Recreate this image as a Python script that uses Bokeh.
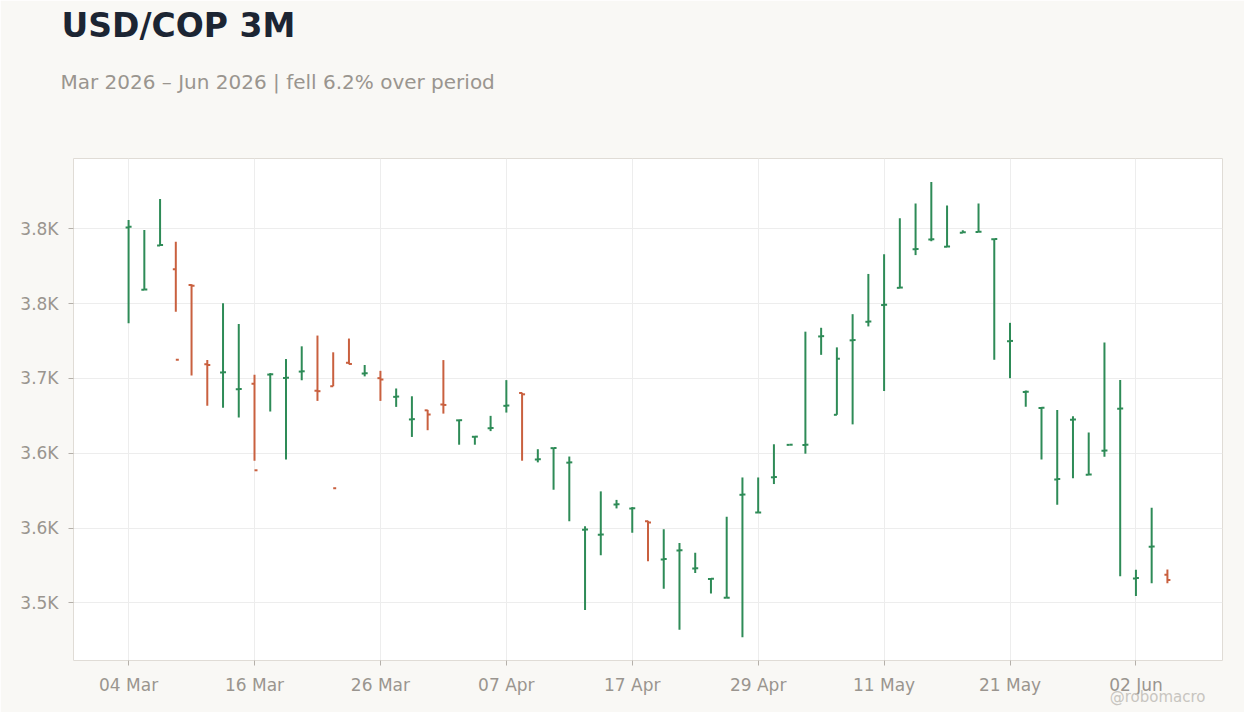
import pandas as pd

from bokeh.plotting import figure
from bokeh.embed import file_html
from bokeh.resources import INLINE
from bokeh.models import ColumnDataSource, Range1d, FixedTicker, Title
from bokeh.transform import dodge

# daily OHLC, USD/COP 3M (business days from 04 Mar 2026)
opens = [3801.0, 3759.4, 3789.0, 3773.0, 3762.5, 3709.5, 3704.0, 3692.8, 3696.4, 3702.6,
         3700.3, 3704.6, 3691.8, 3694.8, 3710.5, 3703.3, 3700.2, 3687.7, 3672.6, 3678.7,
         3682.6, 3672.0, 3661.0, 3666.7, 3681.7, 3690.3, 3645.8, 3653.4, 3643.7, 3598.8,
         3595.5, 3615.7, 3613.0, 3604.6, 3579.0, 3584.9, 3572.9, 3565.9, 3553.3, 3622.2,
         3610.3, 3633.9, 3655.6, 3655.5, 3728.1, 3675.7, 3725.5, 3737.9, 3749.1, 3760.6,
         3786.4, 3792.9, 3788.1, 3797.5, 3797.9, 3793.1, 3724.9, 3690.9, 3680.3, 3632.5,
         3672.4, 3635.6, 3651.6, 3679.8, 3566.3, 3587.5, 3568.7]
highs = [3806.0, 3799.3, 3820.0, 3791.5, 3763.0, 3712.3, 3750.3, 3736.5, 3702.5, 3703.6,
         3713.0, 3721.5, 3728.7, 3717.5, 3726.7, 3709.0, 3705.1, 3693.3, 3688.1, 3679.0,
         3712.3, 3672.3, 3661.2, 3675.0, 3698.9, 3690.5, 3652.7, 3653.6, 3647.8, 3601.1,
         3624.5, 3618.8, 3614.0, 3604.8, 3599.1, 3590.0, 3583.4, 3566.0, 3607.6, 3633.8,
         3633.8, 3656.0, 3655.7, 3731.3, 3733.9, 3720.8, 3743.0, 3769.9, 3783.0, 3807.2,
         3817.0, 3831.4, 3815.7, 3799.1, 3817.0, 3793.2, 3737.2, 3691.9, 3680.9, 3678.9,
         3674.7, 3663.9, 3724.1, 3698.9, 3572.1, 3613.5, 3572.3]
lows = [3737.0, 3759.4, 3789.0, 3744.6, 3702.0, 3681.7, 3680.4, 3673.9, 3645.0, 3677.9,
        3645.8, 3698.8, 3685.0, 3694.8, 3709.5, 3701.4, 3685.0, 3681.0, 3660.9, 3665.4,
        3676.5, 3655.7, 3655.7, 3664.8, 3677.2, 3645.0, 3643.9, 3625.6, 3604.6, 3545.2,
        3581.7, 3613.1, 3596.8, 3577.8, 3559.4, 3532.0, 3569.9, 3556.2, 3553.3, 3527.0,
        3610.3, 3629.4, 3655.6, 3649.7, 3715.8, 3675.7, 3669.3, 3734.8, 3691.6, 3760.6,
        3782.5, 3791.7, 3788.1, 3797.4, 3797.9, 3712.5, 3700.2, 3681.1, 3645.8, 3615.6,
        3633.3, 3635.6, 3647.7, 3567.7, 3554.6, 3563.1, 3563.0]
closes = [3801.5, 3759.5, 3789.2, 3712.5, 3762.0, 3709.0, 3704.2, 3693.0, 3638.6, 3702.8,
          3700.5, 3704.8, 3691.5, 3626.6, 3709.7, 3703.5, 3699.3, 3687.9, 3672.8, 3675.9,
          3682.3, 3672.1, 3661.1, 3666.9, 3681.9, 3689.4, 3646.0, 3653.5, 3643.9, 3599.0,
          3595.7, 3615.9, 3613.2, 3603.7, 3579.2, 3585.1, 3573.1, 3566.0, 3553.4, 3622.4,
          3610.4, 3634.1, 3655.7, 3655.7, 3728.3, 3713.2, 3725.7, 3738.1, 3749.3, 3760.8,
          3786.6, 3793.1, 3788.3, 3797.7, 3798.1, 3793.2, 3725.1, 3691.1, 3680.5, 3632.7,
          3672.6, 3635.8, 3651.8, 3680.0, 3566.5, 3587.7, 3565.3]

dates = pd.bdate_range("2026-03-04", periods=len(opens))
x_ticks = list(range(0, len(dates), 8))
x_labels = [dates[i].strftime("%d %b") for i in x_ticks]
y_ticks = [3550, 3600, 3650, 3700, 3750, 3800]
y_labels = ["3.5K", "3.6K", "3.6K", "3.7K", "3.8K", "3.8K"]

UP = "#2e8b57"
DOWN = "#c9603f"
FONT = "DejaVu Sans"
MUTED = "#9a958f"

src = ColumnDataSource(data=dict(
    idx=list(range(len(opens))),
    open=opens, high=highs, low=lows, close=closes,
    color=[UP if c >= o else DOWN for o, c in zip(opens, closes)],
))

p = figure(width=1244, height=712, output_backend="svg", toolbar_location=None, title=None,
           x_range=Range1d(-3.5, 69.5), y_range=Range1d(3511.4, 3847.1),
           min_border_left=73, min_border_right=22, min_border_top=158, min_border_bottom=52,
           background_fill_color="white", border_fill_color="#f9f8f5",
           outline_line_color="#e0dcd6")

p.segment(x0='idx', y0='low', x1='idx', y1='high', source=src,
          line_color='color', line_width=2)
p.segment(x0=dodge('idx', -0.19), y0='open', x1='idx', y1='open', source=src,
          line_color='color', line_width=2)
p.segment(x0='idx', y0='close', x1=dodge('idx', 0.19), y1='close', source=src,
          line_color='color', line_width=2)

p.xaxis.ticker = FixedTicker(ticks=x_ticks)
p.xaxis.major_label_overrides = dict(zip(x_ticks, x_labels))
p.yaxis.ticker = FixedTicker(ticks=y_ticks)
p.yaxis.major_label_overrides = dict(zip(y_ticks, y_labels))

for ax in (p.xaxis, p.yaxis):
    ax.axis_line_color = None
    ax.major_tick_line_color = "#b5b0aa"
    ax.major_tick_out = 5
    ax.major_tick_in = 0
    ax.minor_tick_line_color = None
    ax.major_label_text_color = MUTED
    ax.major_label_text_font = FONT
    ax.major_label_text_font_size = "17px"
p.yaxis.major_label_standoff = 10
p.xaxis.major_label_standoff = 9

p.grid.grid_line_color = "#ededed"

# header, stacked upward from the frame: spacer, subtitle, spacer, title
# (negative standoffs make the text panels ~zero height so spacers set positions)
p.add_layout(Title(text=" ", standoff=63.6, text_font_size="10px"), "above")
p.add_layout(Title(text="Mar 2026 – Jun 2026 | fell 6.2% over period", align="left",
                   offset=-13, standoff=-24.3, text_font=FONT, text_font_size="20px",
                   text_font_style="normal", text_color=MUTED), "above")
p.add_layout(Title(text=" ", standoff=41.4, text_font_size="10px"), "above")
p.add_layout(Title(text="USD/COP 3M", align="left", offset=-12, standoff=-39.4,
                   text_font=FONT, text_font_size="33px", text_font_style="bold",
                   text_color="#1c2533"), "above")

p.add_layout(Title(text="@robomacro", align="right", offset=17, standoff=-19.5,
                   vertical_align="top", text_font=FONT, text_font_size="15px",
                   text_font_style="normal", text_color="#c8c5c0"), "below")

open("out.html", "w").write(file_html(p, INLINE))
